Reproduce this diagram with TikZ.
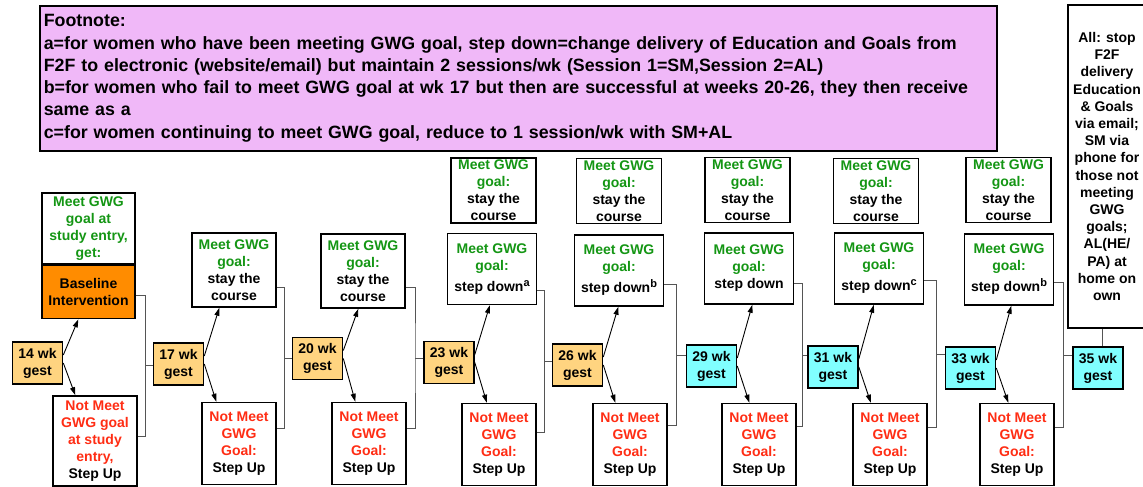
\documentclass[tikz,border=0pt]{standalone}
\usepackage{fontspec}
\setmainfont{Liberation Sans}
\usetikzlibrary{arrows.meta,calc}

\definecolor{fnfill}{RGB}{240,184,248}
\definecolor{gestorange}{RGB}{255,212,128}
\definecolor{gestcyan}{RGB}{128,255,255}
\definecolor{baseorange}{RGB}{255,140,0}
\definecolor{goalgreen}{RGB}{20,150,20}
\definecolor{goalred}{RGB}{255,45,20}
\definecolor{linkgray}{RGB}{85,85,85}

\newcommand\gtext[1]{\textcolor{goalgreen}{#1}}
\newcommand\rtext[1]{\textcolor{goalred}{#1}}
\newcommand\supmark[1]{\raisebox{5pt}{\fontsize{11}{11}\selectfont #1}}

% upper box, lower box, next gestation box, rise above upper bottom, drop below lower top
\newcommand\stagelink[5]{%
  \coordinate (#1-a) at ([yshift=#4pt]#1.south east);
  \coordinate (#1-b) at ([yshift=-#5pt]#2.north east);
  \coordinate (#1-m) at ($(#1-a)!0.5!(#1-b)$);
  \coordinate (#1-x) at ($(#2.east |- #1-m)!0.5!(#3.west |- #1-m)$);
  \draw[link] (#1-a) -| (#1-x) |- (#1-b);
  \draw[link] (#1-x) -- (#1-x -| #3.west);
}
% arrows from a gestation box to its two outcome boxes
\newcommand\branches[3]{%
  \draw[branch] ([yshift=8pt]#1.east) -- ([xshift=15pt]#1.east |- #2.south);
  \draw[branch] (#1.east) -- ([xshift=12pt]#1.east |- #3.north);
}

\tikzset{
  box/.style={draw=black, line width=1.6pt, fill=white, inner sep=0pt, align=center,
    font=\fontsize{14}{17}\bfseries\selectfont},
  gest/.style={box, minimum width=50pt, minimum height=42pt, fill=gestorange},
  gestc/.style={gest, fill=gestcyan},
  stayup/.style={box, minimum width=84pt, minimum height=74pt},
  downbox/.style={box, minimum width=89pt, minimum height=71pt},
  topbox/.style={box, minimum width=85pt, minimum height=65pt},
  lowbox/.style={box, minimum width=74pt, minimum height=82pt},
  branch/.style={-{Triangle[length=8pt,width=5pt]}, line width=0.9pt},
  link/.style={draw=linkgray, line width=0.9pt},
}

\begin{document}
\begin{tikzpicture}[x=1pt,y=-1pt]
\useasboundingbox (0,0) rectangle (1143,487);

% footnote panel
\node[draw=black, line width=1.6pt, fill=fnfill, anchor=north west,
  minimum width=957pt, minimum height=145pt, text width=949pt,
  inner xsep=4pt, inner ysep=0pt, align=left,
  font=\fontsize{17.8}{22.3}\bfseries\selectfont] (fn) at (39,5)
  {Footnote:\\
   a=for women who have been meeting GWG goal, step down=change delivery of Education and Goals from\\
   F2F to electronic (website/email) but maintain 2 sessions/wk (Session 1=SM,Session 2=AL)\\
   b=for women who fail to meet GWG goal at wk 17 but then are successful at weeks 20-26, they then receive\\
   same as a\\
   c=for women continuing to meet GWG goal, reduce to 1 session/wk with SM+AL};

% final summary panel
\node[box, minimum width=78pt, minimum height=323pt,
  font=\fontsize{14}{17.2}\bfseries\selectfont] (R) at (1107,166.5)
  {All: stop\\F2F\\delivery\\Education\\\& Goals\\via email;\\SM via\\phone for\\those not\\meeting\\GWG\\goals;\\AL(HE/\\PA) at\\home on\\own};

% gestation checkpoints
\node[gest]  (g14) at (37.5,363)  {14 wk\\gest};
\node[gest]  (g17) at (178.5,364) {17 wk\\gest};
\node[gest]  (g20) at (317.5,358.5) {20 wk\\gest};
\node[gest]  (g23) at (449,362.5) {23 wk\\gest};
\node[gest]  (g26) at (577.5,365) {26 wk\\gest};
\node[gestc] (g29) at (711.5,366) {29 wk\\gest};
\node[gestc] (g31) at (833,367)   {31 wk\\gest};
\node[gestc] (g33) at (970.5,368) {33 wk\\gest};
\node[gestc] (g35) at (1098,368)  {35 wk\\gest};

% week 14
\node[box, minimum width=93pt, minimum height=71pt] (m14) at (88.5,228.5)
  {\gtext{Meet GWG}\\\gtext{goal at}\\\gtext{study entry,}\\\gtext{get:}};
\node[box, fill=baseorange, minimum width=93pt, minimum height=53pt, anchor=north] (b14) at (m14.south)
  {Baseline\\Intervention};
\node[lowbox, minimum width=84pt, minimum height=90pt] (l14) at (95,441)
  {\rtext{Not Meet}\\\rtext{GWG goal}\\\rtext{at study}\\\rtext{entry,}\\Step Up};

% weeks 17 and 20
\node[stayup] (u17) at (234,270) {\gtext{Meet GWG}\\\gtext{goal:}\\stay the\\course};
\node[lowbox] (l17) at (239,443.5) {\rtext{Not Meet}\\\rtext{GWG}\\\rtext{Goal:}\\Step Up};
\node[stayup] (u20) at (363,271) {\gtext{Meet GWG}\\\gtext{goal:}\\stay the\\course};
\node[lowbox] (l20) at (369,443.5) {\rtext{Not Meet}\\\rtext{GWG}\\\rtext{Goal:}\\Step Up};

% weeks 23 to 33
\node[topbox] (t23) at (493.5,190.5) {\gtext{Meet GWG}\\\gtext{goal:}\\stay the\\course};
\node[downbox] (u23) at (492,269) {\gtext{Meet GWG}\\\gtext{goal:}\\[4pt]step down\supmark{a}};
\node[lowbox] (l23) at (499,444.5) {\rtext{Not Meet}\\\rtext{GWG}\\\rtext{Goal:}\\Step Up};

\node[topbox] (t26) at (619,191) {\gtext{Meet GWG}\\\gtext{goal:}\\stay the\\course};
\node[downbox] (u26) at (619,270.5) {\gtext{Meet GWG}\\\gtext{goal:}\\[4pt]step down\supmark{b}};
\node[lowbox] (l26) at (630,444.5) {\rtext{Not Meet}\\\rtext{GWG}\\\rtext{Goal:}\\Step Up};

\node[topbox] (t29) at (747.5,190) {\gtext{Meet GWG}\\\gtext{goal:}\\stay the\\course};
\node[downbox] (u29) at (749,268.5) {\gtext{Meet GWG}\\\gtext{goal:}\\step down};
\node[lowbox] (l29) at (759,444.5) {\rtext{Not Meet}\\\rtext{GWG}\\\rtext{Goal:}\\Step Up};

\node[topbox] (t31) at (876,191) {\gtext{Meet GWG}\\\gtext{goal:}\\stay the\\course};
\node[downbox] (u31) at (879,268.5) {\gtext{Meet GWG}\\\gtext{goal:}\\[4pt]step down\supmark{c}};
\node[lowbox] (l31) at (890,444.5) {\rtext{Not Meet}\\\rtext{GWG}\\\rtext{Goal:}\\Step Up};

\node[topbox] (t33) at (1008.5,190) {\gtext{Meet GWG}\\\gtext{goal:}\\stay the\\course};
\node[downbox] (u33) at (1009,269.5) {\gtext{Meet GWG}\\\gtext{goal:}\\[4pt]step down\supmark{b}};
\node[lowbox] (l33) at (1017,444.5) {\rtext{Not Meet}\\\rtext{GWG}\\\rtext{Goal:}\\Step Up};

% decision arrows
\branches{g14}{b14}{l14}
\branches{g17}{u17}{l17}
\branches{g20}{u20}{l20}
\branches{g23}{u23}{l23}
\branches{g26}{u26}{l26}
\branches{g29}{u29}{l29}
\branches{g31}{u31}{l31}
\branches{g33}{u33}{l33}

% brackets joining both outcomes to the next checkpoint
\stagelink{b14}{l14}{g17}{24}{41}
\stagelink{u17}{l17}{g20}{20}{27}
\stagelink{u20}{l20}{g23}{21}{27}
\stagelink{u23}{l23}{g26}{15}{30}
\stagelink{u26}{l26}{g29}{22}{23}
\stagelink{u29}{l29}{g31}{21}{24}
\stagelink{u31}{l31}{g33}{24}{25}
\stagelink{u33}{l33}{g35}{23}{25}

\draw[link] ([xshift=4pt]g35.north) -- ([xshift=4pt]g35.north |- R.south);
\end{tikzpicture}
\end{document}
